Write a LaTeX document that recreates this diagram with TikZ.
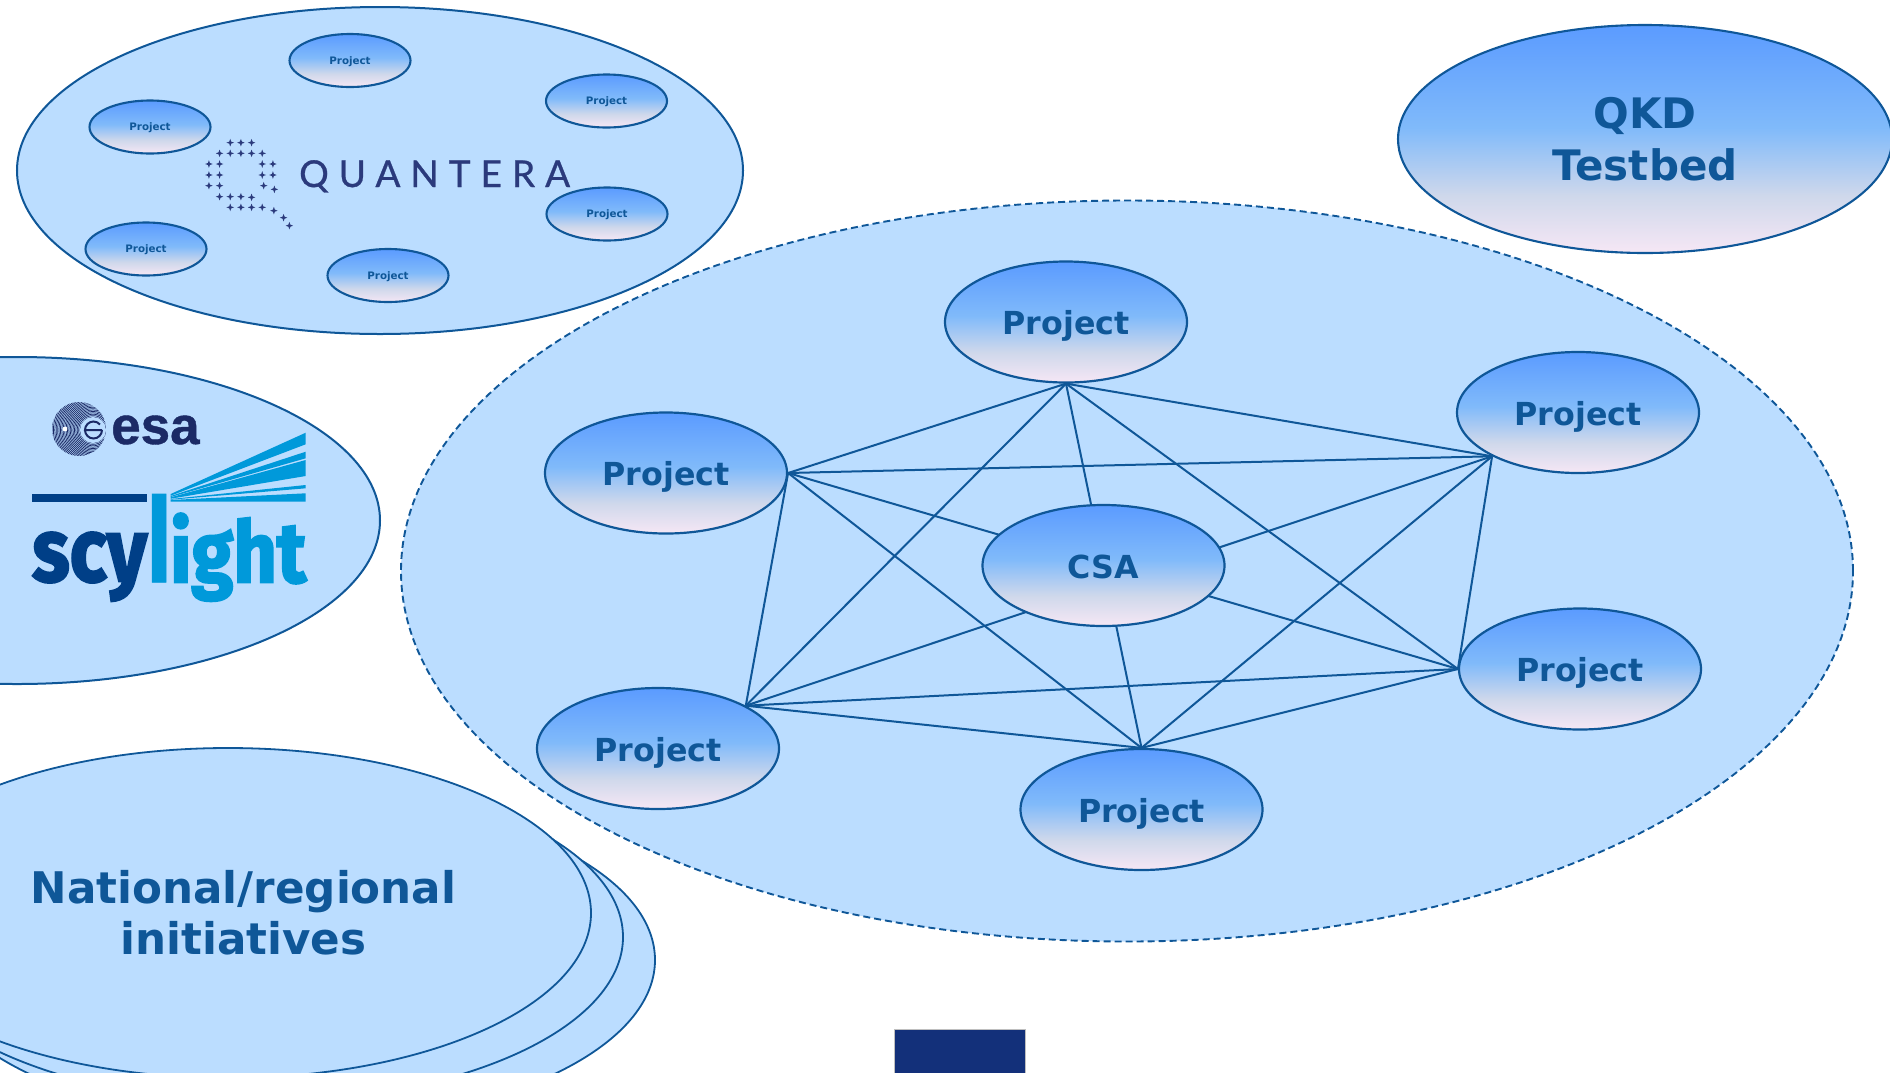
\documentclass[tikz,border=0pt]{standalone}
\usepackage{fontspec}
\setmainfont{DejaVu Sans}
\newfontfamily\qfont[LetterSpace=27,FakeBold=0.8]{Lato}
\newfontfamily\esafont[FakeBold=0.8]{Liberation Sans}
\newfontfamily\scyfont[FakeBold=2.5]{Fira Sans}
\usetikzlibrary{shapes.geometric}
\definecolor{lightfill}{RGB}{187,221,255}
\definecolor{edgeblue}{RGB}{15,87,152}
\definecolor{navy}{RGB}{43,58,124}
\definecolor{esanavy}{RGB}{27,42,102}
\definecolor{scydark}{RGB}{0,63,135}
\definecolor{scylight}{RGB}{0,153,218}
\definecolor{eubar}{RGB}{19,48,122}
\definecolor{gradtop}{RGB}{91,155,255}
\definecolor{gradmid}{RGB}{128,186,250}
\definecolor{gradlow}{RGB}{207,216,235}
\definecolor{gradbot}{RGB}{246,231,245}
\pgfdeclareverticalshading{prj}{100bp}{color(0bp)=(gradbot); color(25bp)=(gradbot); color(37.5bp)=(gradlow); color(52.5bp)=(gradmid); color(75bp)=(gradtop); color(100bp)=(gradtop)}
\pgfdeclarelayer{bg}
\pgfdeclarelayer{lines}
\pgfsetlayers{bg,lines,main}
\newcommand{\ctext}[1]{\raisebox{-0.4em}[0pt][0pt]{#1}}
\newcommand{\stext}[1]{\raisebox{-0.38em}[0pt][0pt]{#1}}
\tikzset{
  container/.style={ellipse,draw=edgeblue,fill=lightfill,line width=2pt,inner sep=0pt,minimum width=726pt,minimum height=327pt},
  stack/.style={ellipse,draw=edgeblue,fill=lightfill,line width=1.8pt,inner sep=0pt,minimum width=726pt,minimum height=330pt},
  bigproj/.style={ellipse,draw=edgeblue,shading=prj,line width=2.2pt,inner sep=0pt,minimum width=242pt,minimum height=121pt,text=edgeblue,font=\fontsize{31.7}{36}\selectfont\bfseries},
  smallproj/.style={ellipse,draw=edgeblue,shading=prj,line width=2.1pt,inner sep=0pt,minimum width=121pt,minimum height=53pt,text=edgeblue,font=\fontsize{10.3}{12}\selectfont\bfseries},
  link/.style={draw=edgeblue,line width=2pt},
  star/.style={fill=navy}
}
\begin{document}
\begin{tikzpicture}[x=1pt,y=-1pt]
\useasboundingbox (0,0) rectangle (1890,1072);
% stacked national ellipses
\node[stack] (nat3) at (292,960) {};
\node[stack] (nat2) at (260,937) {};
\node[stack] (nat1) at (228,913) {};
\node[text=edgeblue,align=center,inner sep=0pt,font=\fontsize{43.6}{51}\selectfont\bfseries] (natlabel) at (243.5,913) {National/regional\\initiatives};
% Quantera
\node[container] (quantera) at (380,170.5) {};
\node[smallproj] (q1) at (350,60.5) {\stext{Project}};
\node[smallproj] (q2) at (606.5,101) {\stext{Project}};
\node[smallproj] (q3) at (150,127) {\stext{Project}};
\node[smallproj] (q4) at (607,214) {\stext{Project}};
\node[smallproj] (q5) at (146,249) {\stext{Project}};
\node[smallproj] (q6) at (388,275.5) {\stext{Project}};
\node[anchor=base west,inner sep=0pt,text=navy,font=\fontsize{37}{40}\qfont] (qlogo) at (299,187) {QUANTERA};
\foreach \a/\b in {475/428,497/428,519/428,
  453/460,475/460,497/460,519/460,541/460,
  431/492,453/492,541/492,563/492,
  431/525,453/525,541/525,563/525,
  431/557,453/557,544/557,566/568,
  453/590,475/590,497/590,519/592,
  475/622,497/622,519/622,541/622,565/632,585/653,597/677}{
  \fill[star,shift={({\a/2.063},{\b/3})}] (-3.8,0) -- (-1,-1) -- (0,-3.8) -- (1,-1) -- (3.8,0) -- (1,1) -- (0,3.8) -- (-1,1) -- cycle;
}
% ESA / scylight
\node[container] (esabox) at (17,520.5) {};
\begin{scope}
  \clip (79,429) circle [radius=27];
  \fill[lightfill] (79,429) circle [radius=27];
  \foreach \r in {13,14.4,...,46}{
    \draw[esanavy,line width=0.7pt] (93,430) circle [radius=\r];
  }
\end{scope}
\fill[lightfill] (93,430) circle [radius=13];
\fill[white] (65,429) circle [radius=2.4];
\draw[esanavy,line width=2pt] (102,430) -- (85,430) arc [start angle=180,end angle=320,radius=8.5];
\draw[esanavy,line width=2pt] (85,430) arc [start angle=180,end angle=360,x radius=8.5,y radius=-8.5];
\node[anchor=base west,inner sep=0pt,text=esanavy,font=\fontsize{53}{56}\esafont\bfseries] (esatext) at (111,444) {esa};
\fill[scydark] (32,494) rectangle (147,501.6);
\fill[scylight] (170.7,494) -- (305.7,432.7) -- (305.7,444.3) -- (170.7,495.7) -- cycle;
\fill[scylight] (170.7,496) -- (305.7,451.7) -- (305.7,458.3) -- (170.7,497) -- cycle;
\fill[scylight] (170.7,497.3) -- (305.7,460) -- (305.7,476) -- (170.7,498.7) -- cycle;
\fill[scylight] (170.7,499) -- (305.7,485) -- (305.7,488.3) -- (170.7,499.7) -- cycle;
\fill[scylight] (170.7,500) -- (305.7,493.3) -- (305.7,501.7) -- (170.7,501.7) -- cycle;
\node[anchor=north west,inner sep=0pt,text=scydark] (scy) at (32,532) {\resizebox*{115pt}{69pt}{\scyfont\bfseries scy}};
\node[anchor=north west,inner sep=0pt,text=scylight] (scyl) at (145,494) {\resizebox*{28pt}{88pt}{\esafont\bfseries l}};
\node[anchor=north west,inner sep=0pt,text=scylight] (scyight) at (170,513) {\resizebox*{136pt}{88pt}{\scyfont\bfseries ight}};
% QKD
\node[ellipse,draw=edgeblue,shading=prj,line width=2.1pt,inner sep=0pt,minimum width=494pt,minimum height=228pt,text=edgeblue,align=center,font=\fontsize{42}{52}\selectfont\bfseries] (qkd) at (1645,139) {QKD\\Testbed};
% main cluster
\begin{pgfonlayer}{bg}
\node[ellipse,draw=edgeblue,fill=lightfill,line width=1.9pt,dashed,dash pattern=on 7pt off 4pt,inner sep=0pt,minimum width=1452pt,minimum height=741pt] (consortium) at (1127,571) {};
\end{pgfonlayer}
\node[bigproj] (ptop) at (1066,322) {\ctext{Project}};
\node[bigproj] (pru) at (1578,412.5) {\ctext{Project}};
\node[bigproj] (pleft) at (666,473) {\ctext{Project}};
\node[bigproj] (prl) at (1580,669) {\ctext{Project}};
\node[bigproj] (pll) at (658,748.5) {\ctext{Project}};
\node[bigproj] (pbot) at (1141.5,809.5) {\ctext{Project}};
\node[bigproj] (csa) at (1103.5,565.5) {\ctext{CSA}};
\begin{pgfonlayer}{lines}
\coordinate (aru) at (pru.207);
\coordinate (all) at (pll.26);
\draw[link] (ptop.south) -- (pleft.east);
\draw[link] (ptop.south) -- (all);
\draw[link] (ptop.south) -- (pbot.north);
\draw[link] (ptop.south) -- (prl.west);
\draw[link] (ptop.south) -- (aru);
\draw[link] (pleft.east) -- (aru);
\draw[link] (pleft.east) -- (prl.west);
\draw[link] (pleft.east) -- (pbot.north);
\draw[link] (pleft.east) -- (all);
\draw[link] (aru) -- (all);
\draw[link] (aru) -- (pbot.north);
\draw[link] (aru) -- (prl.west);
\draw[link] (prl.west) -- (all);
\draw[link] (prl.west) -- (pbot.north);
\draw[link] (all) -- (pbot.north);
\end{pgfonlayer}
% bottom bar
\node[rectangle,fill=eubar,draw=black!25,line width=0.6pt,inner sep=0pt,minimum width=131pt,minimum height=60pt,anchor=north west] (eubar) at (894,1029) {};
\end{tikzpicture}
\end{document}
